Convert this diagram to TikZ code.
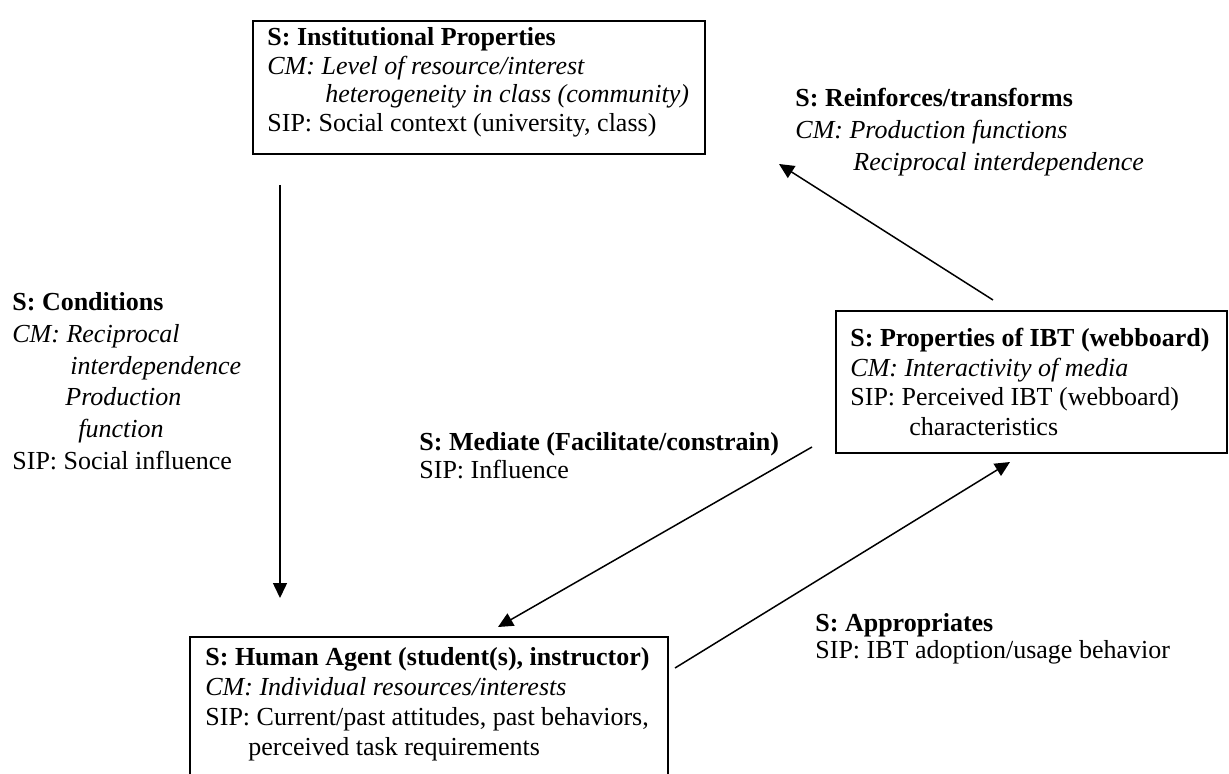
\documentclass[tikz,border=0pt]{standalone}
\usepackage{fontspec}
\setmainfont{Liberation Serif}
\usetikzlibrary{arrows.meta}
\begin{document}
\begin{tikzpicture}[x=0.5pt,y=-0.5pt,
  frame/.style={draw, line width=1pt, inner sep=0pt, anchor=north west},
  txt/.style={anchor=north west, inner sep=0pt, align=left},
  link/.style={line width=0.75pt, -{Triangle[length=7.5pt,width=7pt]}}]
\useasboundingbox (0,0) rectangle (1229,774);
% boxes
\node[frame, minimum width=226pt, minimum height=66.5pt] (inst) at (252,20) {};
\node[frame, minimum width=195.5pt, minimum height=71pt] (ibt) at (835,310) {};
\node[anchor=north west, inner sep=0pt, minimum width=238.5pt, minimum height=80pt] (human) at (190,637) {};
\draw[line width=1pt] (human.south west) -- (human.north west) -- (human.north east) -- (human.south east);
% texts
\node[txt, font={\fontsize{13pt}{14.35pt}\selectfont}] (insttext) at (267,27)
 {\textbf{S: Institutional Properties}\\
  \textit{CM: Level of resource/interest}\\
  \hspace*{29pt}\textit{heterogeneity in class (community)}\\
  SIP: Social context (university, class)};
\node[txt, font={\fontsize{13pt}{16pt}\selectfont}] (reinftext) at (795,88)
 {\textbf{S: Reinforces/transforms}\\
  \textit{CM: Production functions}\\
  \hspace*{29pt}\textit{Reciprocal interdependence}};
\node[txt, font={\fontsize{13pt}{15.9pt}\selectfont}] (condtext) at (12,292)
 {\textbf{S: Conditions}\\
  \textit{CM: Reciprocal}\\
  \hspace*{29pt}\textit{interdependence}\\
  \hspace*{26.5pt}\textit{Production}\\
  \hspace*{33pt}\textit{function}\\
  SIP: Social influence};
\node[txt, font={\fontsize{13pt}{14.8pt}\selectfont}] (ibttext) at (850,328)
 {\textbf{S: Properties of IBT (webboard)}\\
  \textit{CM: Interactivity of media}\\
  SIP: Perceived IBT (webboard)\\
  \hspace*{29.5pt}characteristics};
\node[txt, font={\fontsize{13pt}{14pt}\selectfont}] (medtext) at (419,432)
 {\textbf{S: Mediate (Facilitate/constrain)}\\
  SIP: Influence};
\node[txt, font={\fontsize{13pt}{13.5pt}\selectfont}] (apptext) at (815,613)
 {\textbf{S: Appropriates}\\
  SIP: IBT adoption/usage behavior};
\node[txt, font={\fontsize{13pt}{15pt}\selectfont}] (humantext) at (205,647)
 {\textbf{S: Human Agent (student(s), instructor)}\\
  \textit{CM: Individual resources/interests}\\
  SIP: Current/past attitudes, past behaviors,\\
  \hspace*{21.5pt}perceived task requirements};
% connector ends
\coordinate (c1) at (280,185); \coordinate (c2) at (280,598);
\coordinate (r1) at (993,300); \coordinate (r2) at (779,164);
\coordinate (m1) at (812,447); \coordinate (m2) at (498,627);
\coordinate (a1) at (675,668); \coordinate (a2) at (1010,462);
\draw[link] (c1) -- (c2);
\draw[link] (r1) -- (r2);
\draw[link] (m1) -- (m2);
\draw[link] (a1) -- (a2);
\end{tikzpicture}
\end{document}
